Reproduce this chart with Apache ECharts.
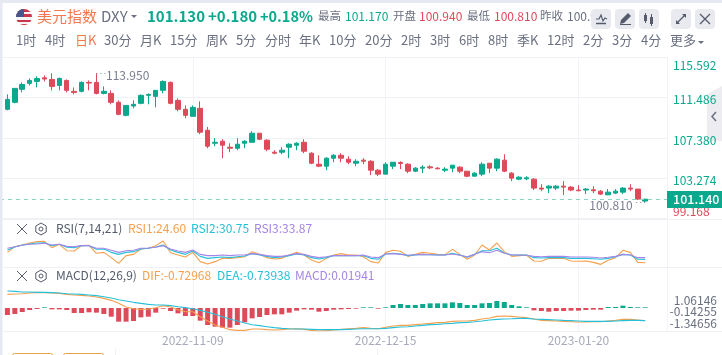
<!DOCTYPE html>
<html><head><meta charset="utf-8">
<style>html,body{margin:0;padding:0;background:#fff}#c{width:722px;height:355px}</style>
<script src="https://cdn.jsdelivr.net/npm/echarts@6/dist/echarts.min.js"></script>
</head><body><div id="c"></div>
<script>
var opens=[110.27,110.98,112.30,112.91,113.11,113.48,113.31,112.70,113.21,112.10,
112.10,113.01,113.01,111.89,111.89,110.98,109.66,110.61,110.88,111.69,
111.59,112.20,113.01,111.18,110.27,109.56,110.37,108.14,106.82,107.03,
106.42,106.31,106.82,106.92,107.84,107.13,105.91,105.91,106.42,106.62,
106.92,105.81,104.69,104.49,105.30,105.60,105.20,104.79,105.10,104.99,
104.08,103.68,104.49,104.86,104.69,103.98,104.29,104.42,104.29,104.08,
104.29,104.39,103.98,103.47,103.68,104.79,104.29,105.10,103.78,103.17,
103.20,103.17,102.26,102.26,102.26,102.46,102.36,102.06,102.06,102.09,
101.95,101.58,101.75,101.85,102.26,102.16,100.94];
var closes=[111.28,112.40,112.80,113.21,113.41,113.35,112.60,113.41,112.20,111.99,
113.01,112.94,111.89,112.10,110.98,109.76,110.67,110.78,111.69,111.79,
112.20,113.11,110.88,110.27,109.66,110.47,107.94,106.52,106.92,106.62,
106.31,106.72,107.03,107.84,107.23,106.21,105.81,106.11,106.72,106.82,
106.01,104.79,104.49,105.30,105.60,105.30,104.89,104.99,104.99,104.08,
103.68,104.69,104.89,104.76,103.98,104.29,104.39,104.32,104.22,104.19,
104.59,103.98,103.47,103.78,104.69,104.29,105.20,103.98,103.27,103.37,
103.31,102.26,102.16,102.46,102.46,102.36,102.06,101.99,102.16,101.99,
101.65,101.85,101.95,102.26,102.16,101.14,101.13];
var lows=[110.17,110.88,111.99,112.70,112.50,113.11,112.20,112.20,111.99,111.79,
111.99,112.20,111.79,111.79,110.78,109.66,109.56,110.37,110.78,110.78,
110.47,111.89,110.78,110.07,109.36,109.56,107.74,106.31,106.52,105.30,
105.91,106.11,106.31,106.92,107.13,106.01,105.71,105.71,105.30,106.11,
105.81,104.69,104.39,104.08,104.89,104.89,104.69,104.49,104.69,103.58,
103.48,103.68,104.19,104.19,103.78,103.88,103.78,104.19,104.19,103.88,
103.88,103.78,103.37,103.47,103.47,103.78,103.98,103.88,102.97,103.07,
103.07,102.06,101.95,101.75,102.06,101.55,101.95,101.95,101.65,101.75,
101.55,101.55,101.65,101.65,101.95,101.04,100.81];
var highs=[111.79,112.40,113.01,113.41,113.62,113.72,113.93,113.51,113.31,112.50,
113.11,113.21,113.95,112.60,112.20,111.18,110.67,111.18,111.79,111.89,
112.20,113.21,113.11,111.39,110.67,110.67,111.08,108.48,107.33,107.23,
106.82,107.33,107.13,108.04,107.84,107.23,106.11,106.42,106.82,106.92,
107.23,105.91,105.60,105.40,105.71,105.81,105.50,105.20,105.30,105.10,
104.19,104.89,104.89,104.99,104.79,104.39,104.59,104.59,104.39,104.39,
104.59,104.49,103.98,103.88,104.89,104.79,105.30,105.70,103.88,103.47,
103.47,103.27,102.66,102.56,102.56,102.97,102.46,102.56,102.26,102.46,
102.06,102.16,102.16,102.36,102.66,102.16,101.17];
var rsi1=[43.7,54.2,57.3,61.0,63.5,64.1,52.4,58.6,46.8,46.2,56.1,56.7,41.9,43.7,33.9,23.4,37.6,40.0,50.0,51.2,56.1,64.7,43.1,38.8,35.1,43.7,26.5,22.1,26.5,32.6,32.6,33.9,35.7,45.0,40.0,33.9,31.4,32.6,38.8,43.7,38.8,29.6,24.6,32.6,38.8,41.3,38.8,38.8,35.7,26.5,24.0,43.7,47.5,45.6,36.3,40.0,43.7,41.9,40.0,39.4,49.3,40.0,30.8,38.8,57.3,48.1,61.0,45.0,36.3,37.6,38.2,27.7,27.1,32.6,32.6,32.6,27.7,27.1,27.7,25.2,21.5,29.0,33.9,47.5,43.7,25.2,24.60];
var rsi2=[48.1,53.6,57.3,59.2,61.0,61.6,56.1,58.6,53.0,52.4,56.1,56.1,49.3,50.0,43.7,40.0,43.7,45.0,50.0,51.2,53.6,57.3,48.1,43.7,40.0,46.2,36.3,32.6,33.9,35.1,33.9,35.7,37.0,41.3,38.8,36.3,33.9,35.1,37.6,40.7,38.8,33.9,31.4,33.9,37.6,37.6,37.6,37.6,37.6,32.6,30.8,40.7,41.9,40.7,37.6,38.8,40.0,39.4,38.8,38.8,41.9,38.8,34.5,40.0,46.8,46.8,51.2,42.5,38.8,38.8,38.8,33.9,33.3,33.9,33.9,33.9,32.6,32.6,32.6,32.0,30.8,32.6,35.7,40.0,38.8,30.8,30.75];
var rsi3=[51.2,54.2,56.7,58.6,59.2,60.4,57.3,58.6,54.8,54.2,56.1,56.1,51.2,51.2,47.5,43.7,46.8,47.5,51.2,51.8,53.0,56.1,50.0,46.2,43.7,48.1,40.0,37.6,37.6,38.8,37.6,38.8,38.8,41.3,40.0,37.6,36.3,36.3,38.8,41.3,40.0,36.3,33.9,35.7,37.6,37.6,37.6,37.6,38.8,35.1,33.9,40.7,41.3,40.0,38.2,39.4,40.0,39.4,38.8,38.8,40.7,38.2,35.7,40.0,45.0,43.1,47.5,41.9,38.8,38.8,38.2,36.3,35.7,36.3,36.3,36.3,35.1,35.1,35.1,34.5,33.3,34.5,36.3,40.0,38.8,33.9,33.87];
var dif=[0.730,0.748,0.765,0.801,0.837,0.819,0.801,0.783,0.730,0.694,0.676,0.641,0.587,0.516,0.409,0.249,0.053,-0.036,-0.071,-0.053,0.018,0.125,0.053,-0.089,-0.196,-0.196,-0.463,-0.694,-0.908,-1.032,-1.157,-1.193,-1.193,-1.121,-1.121,-1.157,-1.175,-1.157,-1.121,-1.104,-1.139,-1.193,-1.228,-1.210,-1.175,-1.139,-1.104,-1.086,-1.050,-1.086,-1.104,-1.032,-0.961,-0.926,-0.926,-0.890,-0.854,-0.819,-0.783,-0.765,-0.712,-0.694,-0.694,-0.659,-0.587,-0.534,-0.445,-0.427,-0.445,-0.481,-0.516,-0.587,-0.659,-0.676,-0.694,-0.712,-0.730,-0.748,-0.748,-0.730,-0.730,-0.694,-0.659,-0.605,-0.605,-0.641,-0.680];
var dea=[0.908,0.890,0.854,0.854,0.837,0.837,0.819,0.801,0.765,0.748,0.730,0.694,0.659,0.605,0.534,0.445,0.374,0.303,0.249,0.196,0.160,0.160,0.125,0.071,0.018,-0.036,-0.125,-0.231,-0.338,-0.463,-0.587,-0.694,-0.801,-0.890,-0.943,-0.997,-1.050,-1.086,-1.104,-1.121,-1.121,-1.139,-1.157,-1.157,-1.157,-1.157,-1.139,-1.121,-1.104,-1.104,-1.104,-1.086,-1.050,-1.015,-0.997,-0.961,-0.926,-0.890,-0.872,-0.837,-0.819,-0.783,-0.765,-0.730,-0.694,-0.641,-0.605,-0.587,-0.570,-0.552,-0.552,-0.587,-0.605,-0.623,-0.641,-0.659,-0.676,-0.694,-0.712,-0.712,-0.712,-0.712,-0.694,-0.676,-0.659,-0.659,-0.676];
var macd=[-0.374,-0.320,-0.214,-0.107,-0.053,0.036,-0.071,-0.071,-0.107,-0.267,-0.267,-0.231,-0.249,-0.320,-0.463,-0.730,-0.730,-0.694,-0.498,-0.463,-0.249,-0.036,-0.160,-0.285,-0.427,-0.427,-0.676,-0.908,-0.997,-1.050,-1.050,-0.908,-0.765,-0.552,-0.481,-0.374,-0.338,-0.338,-0.249,-0.142,-0.071,-0.089,-0.196,-0.160,-0.089,-0.071,-0.053,-0.036,0.036,0.036,-0.036,0.036,0.160,0.214,0.160,0.160,0.214,0.249,0.249,0.249,0.303,0.267,0.160,0.160,0.249,0.267,0.374,0.320,0.160,0.089,0.036,-0.125,-0.160,-0.196,-0.160,-0.160,-0.142,-0.142,-0.107,-0.089,-0.089,0.053,0.053,0.125,0.053,0.036,0.036];
var priceTicks=[99.168,103.274,107.380,111.486,115.592];
var macdTicksOuter=[-1.34656,1.06146];
var macdTicksMiddle=[-0.14255];
var dateLabels=['','2022-11-09','2022-12-15','2023-01-20'];
var periods=['1时','4时','日K','30分','月K','15分','周K','5分','分时','年K','10分','20分','2时','3时','6时','8时','季K','12时','2分','3分','4分','更多'];
var periodX=[16,45,75,104,140,170,206,236,265,299,329,365,401,430,459,488,517,547,583,612,641,670];

var GREEN='#0aa88c',RED='#dd4b5b',ORANGE='#f5a04e',CYAN='#27c0d8',PURPLE='#a585e6',GRID='#f2f3f6',FONT='"Noto Sans CJK SC","Noto Sans",sans-serif';
var X=[]; for(var k=0;k<opens.length;k++) X.push(k+1);
function pts(a){return a.map(function(v,i){return [X[i],v];});}
var candle=opens.map(function(o,i){return [X[i],o,closes[i],lows[i],highs[i]];});
var bars=macd.map(function(v,i){return {value:[X[i],v],itemStyle:{color:v>=0?GREEN:RED}};});

var els=[];
function T(x,y,s,fill,size,w,align,z){els.push({type:'text',z:z||50,style:{x:x,y:y,text:s,fill:fill,font:(w||'normal')+' '+size+'px '+FONT,textVerticalAlign:'middle',textAlign:align||'left'}});}
function R(x,y,w,h,fill,r,z){els.push({type:'rect',z:z||40,shape:{x:x,y:y,width:w,height:h,r:r||0},style:{fill:fill}});}
function L(p,col,lw,z){els.push({type:'polyline',z:z||51,shape:{points:p},style:{stroke:col,lineWidth:lw||1,fill:null}});}
function P(p,fill,z){els.push({type:'polygon',z:z||51,shape:{points:p},style:{fill:fill}});}

// bands
R(0,0,722,3,'#e6e9f1');R(0,0,2.5,355,'#e6e9f1');
// panel separators
[[219],[267],[331]].forEach(function(a){L([[3,a[0]+.5],[722,a[0]+.5]],'#eef0f4',1,1);});
L([[667.5,219],[667.5,215]],'#eef0f4',1,1);
L([[115.5,349],[115.5,355]],'#eef0f4',1,1);L([[377.5,349],[377.5,355]],'#eef0f4',1,1);
els.push({type:'rect',z:40,shape:{x:12.5,y:353.5,width:40,height:10,r:2},style:{fill:'#fff',stroke:'#e5a44c'}});
els.push({type:'rect',z:40,shape:{x:63.5,y:353.5,width:40,height:10,r:2},style:{fill:'#fff',stroke:'#e5a44c'}});
// flag
els.push({type:'circle',z:40,shape:{cx:24,cy:17,r:8},style:{fill:{type:'linear',x:0,y:0,x2:0,y2:1,colorStops:[{offset:0,color:'#c9354a'},{offset:.18,color:'#c9354a'},{offset:.18,color:'#f4f4f6'},{offset:.34,color:'#f4f4f6'},{offset:.34,color:'#c9354a'},{offset:.5,color:'#c9354a'},{offset:.5,color:'#f4f4f6'},{offset:.66,color:'#f4f4f6'},{offset:.66,color:'#c9354a'},{offset:.82,color:'#c9354a'},{offset:.82,color:'#f4f4f6'},{offset:.92,color:'#f4f4f6'},{offset:.92,color:'#c9354a'},{offset:1,color:'#c9354a'}]}}});
els.push({type:'sector',z:41,shape:{cx:24,cy:17,r:8,startAngle:Math.PI,endAngle:Math.PI*1.5},style:{fill:'#46558a'}});
// header
T(37,16,'美元指数','#f5774f',15);
T(101,16,'DXY','#6b7080',15);
P([[131,15],[137,15],[134,18]],'#6b7080');
T(147,16,'101.130',GREEN,15,'bold');T(208,16,'+0.180',GREEN,15,'bold');T(260,16,'+0.18%',GREEN,14.5,'bold');
T(318,16,'最高','#6b7080',11.5);T(345,16,'101.170',GREEN,12);
T(393,16,'开盘','#6b7080',11.5);T(419,16,'100.940',RED,12);
T(467,16,'最低','#6b7080',11.5);T(494,16,'100.810',RED,12);
T(540,16,'昨收','#6b7080',11.5);T(567,16,'100.9','#6b7080',12);
// period row
periods.forEach(function(s,i){T(periodX[i],40,s,s==='日K'?'#f5774f':'#6b7080',13);});
P([[698,41],[704,41],[701,44]],'#6b7080');
// toolbar
[591,615,639,671,695].forEach(function(x){R(x,9,20,20,'#e8eaf0',4,52);});
L([[596,19],[599,19],[601,15],[603,21],[605,18],[607,19]],'#555b6b',1.2,53);L([[596,23.5],[606,23.5]],'#555b6b',1.5,53);
P([[620,24],[621,20],[628,13],[631,16],[624,23]],'#555b6b',53);L([[620,24.5],[631,24.5]],'#555b6b',1,53);
R(644,15,3,6,'#555b6b',0,53);L([[645.5,13],[645.5,23]],'#555b6b',1,53);R(650,17,3,7,'#555b6b',0,53);L([[651.5,14],[651.5,26]],'#555b6b',1,53);
L([[677,23],[685,15]],'#555b6b',1.2,53);P([[682,14],[686,14],[686,18]],'#555b6b',53);P([[676,20],[676,24],[680,24]],'#555b6b',53);
L([[700,14],[710,24]],'#555b6b',1.2,53);L([[710,14],[700,24]],'#555b6b',1.2,53);
// side tab (behind the axis labels)
P([[722,86],[707,94],[707,141],[722,141]],'#ededf1',-1);
L([[716,112],[712,116.5],[716,121]],'#6b7080',1.5,46);
// current price badge
R(667,191,55,17,GREEN,0,60);
T(673,199.5,'101.140','#ffffff',12.5,'500','left',61);
// pane titles
function icons(y){L([[17,y-5],[27,y+5]],'#555b6b',1);L([[27,y-5],[17,y+5]],'#555b6b',1);
 var c=41,r=6,h=[];for(var a=0;a<6;a++){var t=Math.PI/3*a+Math.PI/2;h.push([c+r*Math.cos(t),y+r*Math.sin(t)]);}h.push(h[0]);L(h,'#555b6b',1);
 els.push({type:'circle',z:51,shape:{cx:c,cy:y,r:2},style:{stroke:'#555b6b',fill:null}});}
icons(229);icons(276);
T(56,228,'RSI(7,14,21)','#555b6b',12);T(128,228,'RSI1:24.60',ORANGE,12);T(191,228,'RSI2:30.75',CYAN,12);T(254,228,'RSI3:33.87',PURPLE,12);
T(56,275,'MACD(12,26,9)','#555b6b',12);T(142,275,'DIF:-0.72968',ORANGE,12);T(217,275,'DEA:-0.73938',CYAN,12);T(295,275,'MACD:0.01941',PURPLE,12);

var XMAX=89.94;
function xAxis(idx,showLabel){return {type:'value',gridIndex:idx,min:0,max:XMAX,interval:26,
 axisLine:{show:false},axisTick:{show:false},
 splitLine:{show:true,lineStyle:{color:GRID,width:1}},
 axisLabel:{show:!!showLabel,color:'#a6a9b8',fontSize:12,fontFamily:FONT,margin:3,showMinLabel:false,showMaxLabel:false,
  formatter:function(v){return dateLabels[Math.round(v/26)]||'';}}};}
function line(name,data,col,xi,yi,w){return {name:name,type:'line',xAxisIndex:xi,yAxisIndex:yi,data:pts(data),showSymbol:false,symbol:'none',smooth:false,lineStyle:{color:col,width:w||1.1},z:3,silent:true,animation:false};}
function macdAxis(vals){return {type:'value',gridIndex:2,position:'right',min:-2.184,max:4.52,axisLine:{show:false},axisTick:{show:false},splitLine:{show:false},
   axisLabel:{customValues:vals,showMinLabel:true,showMaxLabel:true,color:'#6b7080',fontSize:12,fontFamily:FONT,align:'right',margin:50,formatter:function(v){return v.toFixed(5);}}};}
var option={animation:false,backgroundColor:'#fff',
 grid:[{left:-2.14,width:669.14,top:57,height:161.5},{left:-2.14,width:669.14,top:219,height:48},{left:-2.14,width:669.14,top:267,height:64}],
 xAxis:[xAxis(0),xAxis(1),xAxis(2,true)],
 yAxis:[{type:'value',gridIndex:0,position:'right',min:priceTicks[0],max:priceTicks[4],interval:priceTicks[1]-priceTicks[0],
   axisLine:{show:true,lineStyle:{color:'#e9ebf0'}},axisTick:{show:false},
   splitLine:{show:true,lineStyle:{color:'#f0f1f4'}},
   axisLabel:{fontSize:12,fontFamily:FONT,margin:6,verticalAlign:'middle',
     formatter:function(v){var s=v.toFixed(3);return v<100?'{b|'+s+'}':(v>115?'{t|'+s+'}':'{m|'+s+'}');},
     rich:{m:{color:GREEN,fontSize:12,fontFamily:FONT,padding:[5,0,0,0]},
           t:{color:GREEN,fontSize:12,fontFamily:FONT,padding:[16,0,0,0]},
           b:{color:RED,fontSize:12,fontFamily:FONT,padding:[0,0,15,0]}}}},
  {type:'value',gridIndex:1,position:'right',min:16.6,max:105.4,show:false},
  {type:'value',gridIndex:2,position:'right',min:-1.228,max:2.19,show:false},
  macdAxis(macdTicksOuter),macdAxis(macdTicksMiddle)],
 series:[
  {type:'candlestick',xAxisIndex:0,yAxisIndex:0,data:candle,barWidth:5,silent:true,
   itemStyle:{color:GREEN,color0:RED,borderColor:GREEN,borderColor0:RED,borderWidth:1},
   markLine:{silent:true,symbol:'none',animation:false,data:[
     [{coord:[13,113.95],lineStyle:{color:'#8a8e9c',type:[1,3],width:1},label:{show:true,position:'end',formatter:'113.950',color:'#7a7f8f',fontSize:12,fontFamily:FONT,offset:[-5,2]}},{coord:[14.3,113.95]}],
     [{coord:[87,100.81],lineStyle:{color:'#8a8e9c',type:[1,3],width:1},label:{show:true,position:'end',formatter:'100.810',color:'#7a7f8f',fontSize:12,fontFamily:FONT,offset:[2,3]}},{coord:[85.7,100.81]}],
     [{coord:[0,101.14],lineStyle:{color:'#8bd4c5',type:[4,4],width:1},label:{show:false}},{coord:[XMAX,101.14]}]
   ]}},
  line('RSI1',rsi1,ORANGE,1,1),line('RSI2',rsi2,CYAN,1,1),line('RSI3',rsi3,PURPLE,1,1),
  {type:'bar',xAxisIndex:2,yAxisIndex:2,data:bars,barWidth:5,silent:true,z:2},
  line('DIF',dif,ORANGE,2,2),line('DEA',dea,CYAN,2,2)
 ],
 graphic:{elements:els}};
var chart=echarts.init(document.getElementById('c'),null,{renderer:'canvas'});
chart.setOption(option);
</script></body></html>
